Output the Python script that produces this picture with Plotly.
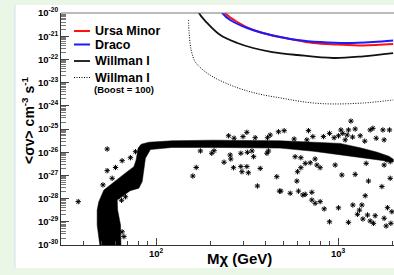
import plotly.graph_objects as go

# ---------------- data ----------------
ursa_mass = [215, 239, 279, 341, 423, 545, 729, 989, 1372, 2005]
ursa_sigma = [4e-20, 1.0e-20, 4.1e-21, 1.85e-21, 1.13e-21, 7.6e-22, 5.1e-22, 4.4e-22, 4.0e-22, 4.6e-22]

draco_mass = [205, 231, 255, 316, 387, 480, 595, 797, 1120, 1556, 2005]
draco_sigma = [5e-20, 1.0e-20, 5.0e-21, 2.25e-21, 1.37e-21, 9.2e-22, 6.9e-22, 5.6e-22, 5.1e-22, 5.6e-22, 6.5e-22]

willman_mass = [158, 172, 191, 225, 279, 341, 434, 595, 939, 1372, 2005]
willman_sigma = [1e-19, 1.0e-20, 3.7e-21, 1.13e-21, 5.1e-22, 3.1e-22, 2.08e-22, 1.55e-22, 1.15e-22, 1.35e-22, 1.85e-22]

boost_mass = [150.5, 151.8, 155.7, 164, 181, 206, 255, 316, 387, 480, 595, 729, 939, 1372, 2005]
boost_sigma = [5.0e-21, 1.37e-21, 2.54e-22, 7.8e-23, 3.5e-23, 1.74e-23, 7.9e-24, 4.4e-24, 2.95e-24,
               2.2e-24, 1.63e-24, 1.32e-24, 1.2e-24, 1.32e-24, 1.78e-24]

# outline of the dense band of model points
band_mass = [49.2, 47.4, 47.4, 48.4, 51.6, 55.9, 62.4, 69.3, 75.4, 77.6,
             79.6, 82.7, 91.2, 122, 205, 315, 480, 730, 1025, 1320,
             1640, 1900, 2010, 2010, 1640, 1320, 1025, 730, 480, 315,
             205, 122, 93, 87.3, 85.6, 83.8, 80.3, 72, 61.1, 61.4,
             63.7, 64.1]
band_sigma = [8e-31, 7.3e-30, 3.2e-29, 7.4e-29, 2.34e-28, 3.9e-28, 7.8e-28, 1.45e-27, 2.37e-27, 4.6e-27,
              1.51e-26, 2.2e-26, 2.7e-26, 3.1e-26, 3.3e-26, 3.3e-26, 3.1e-26, 2.7e-26, 2.4e-26, 1.55e-26,
              1.0e-26, 6.7e-27, 5.0e-27, 3.8e-27, 4.7e-27, 6.0e-27, 7.6e-27, 1.1e-26, 1.5e-26, 1.6e-26,
              1.6e-26, 1.6e-26, 1.3e-26, 5.5e-27, 2.0e-27, 5.4e-28, 2.8e-28, 2.2e-28, 8.7e-29, 3.2e-29,
              7.3e-30, 8e-31]

# isolated model points
pts_mass = [53.8, 37.3, 53.8, 59.8, 65.0, 72.2, 77.0, 51.0, 57.3, 64.5, 67.8, 65.0, 66.5,
            250, 268, 300, 315, 350, 423, 409, 470,
            202, 208, 236, 255, 257, 266, 292, 292, 296, 315, 321, 317, 336, 343, 373, 360,
            406, 414, 460, 476, 166, 159, 175,
            505, 573, 687, 673, 726, 830, 896, 1035, 1139, 1175, 1240, 1321, 1499, 1551, 1618,
            1761, 1914, 1789, 1004, 1093, 1060, 1120, 1200, 950, 1400,
            580, 624, 659, 702, 747, 764, 796, 598, 624, 963, 1048, 1240, 1425, 1467, 1789,
            1931, 1739, 1852, 1931,
            593, 605, 545, 640, 659, 717, 717, 747, 796, 838, 896, 1004, 1139, 1204, 1309,
            1276, 1350, 1408, 1367, 1449, 1499, 1597, 1563, 1866, 1789, 1835, 1948, 1973, 484]
pts_sigma = [1.37e-26, 7.4e-29, 1.6e-27, 2.2e-27, 4.3e-27, 5.8e-27, 1.05e-26, 3.9e-28, 7.5e-28, 8.5e-29, 1.2e-28, 3.7e-30, 2.3e-30,
             5.1e-26, 4.0e-26, 4.7e-26, 7.2e-26, 4.2e-26, 5.5e-26, 4.2e-26, 7.6e-26,
             9.0e-27, 1.16e-26, 3.7e-27, 7.6e-27, 5.1e-27, 2.15e-27, 9.0e-27, 2.4e-27, 1.44e-27, 2.4e-27, 1.3e-27, 9.9e-27, 1.13e-26, 6.4e-27, 2.0e-27, 3.5e-28,
             9.0e-27, 1.13e-26, 8.8e-28, 2.1e-28, 2.2e-27, 9.4e-28, 1.13e-26,
             8.5e-26, 3.7e-26, 8.5e-26, 3.4e-26, 4.7e-26, 4.7e-26, 6.5e-26, 9.1e-26, 9.1e-26, 2.2e-25, 1.0e-25, 5.1e-26, 9.1e-26, 1.07e-25, 4.0e-26,
             9.1e-26, 9.1e-26, 3.4e-26, 5.1e-26, 3.4e-26, 6.5e-26, 5.5e-26, 4.5e-26, 4.2e-26, 3.0e-26,
             6.4e-27, 5.8e-27, 3.3e-27, 3.5e-27, 5.1e-27, 2.8e-27, 2.15e-27, 1.44e-27, 2.15e-27, 2.8e-27, 1.04e-27, 1.11e-27, 3.3e-27, 5.7e-28, 2.8e-27,
             7.5e-28, 3.3e-28, 4.6e-27, 3.9e-27,
             5.7e-28, 2.1e-28, 1.7e-28, 1.43e-28, 1.53e-28, 1.87e-28, 8.7e-29, 6.3e-29, 7.4e-29, 3.6e-29, 1.0e-29, 4.0e-29, 9.5e-30, 5.3e-29, 3.2e-29,
             2.1e-29, 5.3e-29, 1.33e-28, 1.32e-29, 1.96e-29, 1.08e-29, 1.83e-29, 8.6e-30, 4.05e-29, 1.42e-29, 6.6e-30, 8.6e-30, 2.72e-29, 2.1e-28]

y_exponents = list(range(-30, -19))
x_exponents = [2, 3]

legend_names = ["Ursa Minor", "Draco", "Willman I", "Willman I"]

# ---------------- figure ----------------
W, H = 394, 275
L, T, PW, PH = 61, 13, 333, 232
FONT = "Liberation Sans, Arial, Helvetica, sans-serif"


def px(x):
    return (x - L) / PW


def py(y):
    return (T + PH - y) / PH


fig = go.Figure()

fig.add_trace(go.Scatter(x=band_mass, y=band_sigma, mode="lines", fill="toself",
                         fillcolor="black", line=dict(color="black", width=0.5),
                         hoverinfo="skip", showlegend=False))
fig.add_trace(go.Scatter(x=pts_mass, y=pts_sigma, mode="markers",
                         marker=dict(symbol="asterisk-open", size=4.5, color="black",
                                     line=dict(color="#111111", width=1)),
                         showlegend=False))

fig.add_trace(go.Scatter(x=boost_mass, y=boost_sigma, mode="lines", line_shape="spline",
                         line=dict(color="black", width=1, dash="1px,1.5px"), showlegend=False))
fig.add_trace(go.Scatter(x=willman_mass, y=willman_sigma, mode="lines", line_shape="spline",
                         line=dict(color="#111111", width=1.8), showlegend=False))
fig.add_trace(go.Scatter(x=ursa_mass, y=ursa_sigma, mode="lines", line_shape="spline",
                         line=dict(color="#ff1010", width=2), showlegend=False))
fig.add_trace(go.Scatter(x=draco_mass, y=draco_sigma, mode="lines", line_shape="spline",
                         line=dict(color="#1a1aff", width=2), showlegend=False))

xmin_log = 1.4771
xmax_log = xmin_log + PW / 182.0

x_minor = [m * 10 ** e for e in (1, 2, 3) for m in range(2, 10)]
y_minor = [m * 10.0 ** e for e in range(-31, -19) for m in range(2, 10)]

shapes = [
    # white slide panel
    dict(type="rect", xref="paper", yref="paper", x0=px(15), x1=px(400), y0=py(268), y1=py(5),
         fillcolor="white", line=dict(width=0), layer="below"),
    dict(type="line", xref="paper", yref="paper", x0=px(15), x1=px(15), y0=py(268), y1=py(5),
         line=dict(color="#cfe2ee", width=1), layer="below"),
    # top frame line
    dict(type="line", xref="paper", yref="paper", x0=0, x1=1.01, y0=1, y1=1,
         line=dict(color="#777777", width=1)),
]

# legend (drawn by hand)
leg_y = [31, 44.5, 61, 77.5]
leg_col = ["#ff1010", "#1a1aff", "#111111", "black"]
leg_dash = ["solid", "solid", "solid", "1px,1.5px"]
leg_w = [2, 2, 1.8, 1]
annotations = []
for name, yy, c, d, w in zip(legend_names, leg_y, leg_col, leg_dash, leg_w):
    shapes.append(dict(type="line", xref="paper", yref="paper", x0=px(74), x1=px(90),
                       y0=py(yy), y1=py(yy), line=dict(color=c, width=w, dash=d)))
    annotations.append(dict(xref="paper", yref="paper", x=px(93), y=py(yy), text=name,
                            showarrow=False, xanchor="left", yanchor="middle",
                            font=dict(family=FONT, size=12.5, color="black", weight="bold")))
annotations.append(dict(xref="paper", yref="paper", x=px(124), y=py(89.5), text="(Boost = 100)",
                        showarrow=False, xanchor="center", yanchor="middle",
                        font=dict(family=FONT, size=9.5, color="black", weight="bold")))
# axis titles
annotations.append(dict(xref="paper", yref="paper", x=px(239), y=py(258.5), text="Mχ (GeV)",
                        showarrow=False, xanchor="center", yanchor="middle",
                        font=dict(family=FONT, size=15, color="black", weight="bold")))
annotations.append(dict(xref="paper", yref="paper", x=px(28), y=py(120),
                        text="&lt;σv&gt; cm<sup>-3</sup> s<sup>-1</sup>", textangle=-90,
                        showarrow=False, xanchor="center", yanchor="middle",
                        font=dict(family=FONT, size=14, color="black", weight="bold")))

fig.update_layout(
    width=W, height=H,
    margin=dict(l=L, r=W - L - PW, t=T, b=H - T - PH, pad=0),
    paper_bgcolor="#eaf6e6",
    plot_bgcolor="white",
    showlegend=False,
    hovermode=False,
    shapes=shapes,
    annotations=annotations,
    xaxis=dict(type="log", range=[xmin_log, xmax_log], showgrid=False, zeroline=False,
               showline=True, linecolor="#333333", linewidth=1, mirror=False,
               ticks="inside", ticklen=7, tickcolor="#444444",
               tickvals=[10 ** e for e in x_exponents],
               ticktext=["10<sup>%d</sup>" % e for e in x_exponents],
               tickfont=dict(family=FONT, size=9.5, color="black", weight="bold"),
               minor=dict(tickvals=x_minor, ticks="inside", ticklen=4, tickcolor="#444444", showgrid=False)),
    yaxis=dict(type="log", range=[-30, -20], showgrid=False, zeroline=False,
               showline=True, linecolor="#333333", linewidth=1, mirror=False,
               ticks="inside", ticklen=8, tickcolor="#444444",
               tickvals=[10.0 ** e for e in y_exponents],
               ticktext=["10<sup>%d</sup>" % e for e in y_exponents],
               tickfont=dict(family=FONT, size=9.5, color="black", weight="bold"),
               minor=dict(tickvals=y_minor, ticks="inside", ticklen=5, tickcolor="#777777", showgrid=False)),
)

fig.write_html("out.html", config={"displayModeBar": False, "staticPlot": True},
               post_script="document.body.style.margin='0px';document.body.style.overflow='hidden';"
                           "document.documentElement.style.overflow='hidden';")
